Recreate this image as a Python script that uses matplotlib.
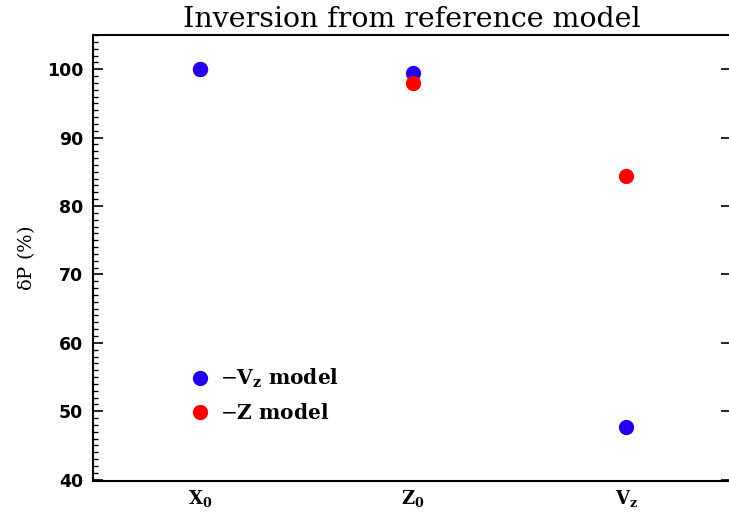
import matplotlib
matplotlib.use("Agg")
import matplotlib.pyplot as plt
from matplotlib.ticker import MultipleLocator
from matplotlib.lines import Line2D

plt.rcParams['mathtext.fontset'] = 'custom'
plt.rcParams['mathtext.rm'] = 'DejaVu Serif'
plt.rcParams['mathtext.it'] = 'DejaVu Serif'
plt.rcParams['mathtext.bf'] = 'DejaVu Serif:bold'

# parametros invertidos y porcentaje de deltaP
parametros = [r'$\mathbf{X_0}$', r'$\mathbf{Z_0}$', r'$\mathbf{V_z}$']
dp_vz = [100.0, 99.5, 47.7]     # -Vz model (azul)
dp_z = [100.0, 98.0, 84.4]      # -Z model (rojo)
# que serie queda encima en cada punto
encima = ['vz', 'z', 'z']

azul = '#2200ee'
rojo = '#ff0000'

fig = plt.figure(figsize=(7.29, 5.17), dpi=100)
ax = fig.add_axes([93 / 729, 36 / 517, 638 / 729, 446 / 517])

x = list(range(len(parametros)))
for i in x:
    z_vz, z_z = (4, 3) if encima[i] == 'vz' else (3, 4)
    ax.plot(x[i], dp_vz[i], 'o', color=azul, ms=11, mec='none', zorder=z_vz, clip_on=False)
    ax.plot(x[i], dp_z[i], 'o', color=rojo, ms=11, mec='none', zorder=z_z, clip_on=False)

ax.set_xlim(-0.5, 2.49)
ax.set_ylim(39.8, 105)

ax.set_xticks(x)
ax.set_xticklabels(parametros, fontsize=13)
ax.tick_params(axis='x', length=0, pad=5)

ax.yaxis.set_major_locator(MultipleLocator(10))
ax.yaxis.set_minor_locator(MultipleLocator(1))
ax.tick_params(axis='y', which='major', direction='in', length=7, width=1.2,
               right=True, labelsize=12.5, pad=7)
ax.tick_params(axis='y', which='minor', direction='in', length=3.5, width=1.0)
for lab in ax.get_yticklabels():
    lab.set_family('DejaVu Sans')
    lab.set_weight('bold')

for s in ax.spines.values():
    s.set_linewidth(1.5)

ax.set_ylabel(r'$\mathrm{\delta}$P (%)', family='DejaVu Serif', fontsize=14, labelpad=7)
ax.set_title('Inversion from reference model', family='DejaVu Serif',
             fontsize=20.5, pad=6)

h = [Line2D([], [], ls='none', marker='o', ms=11, color=azul, mec='none'),
     Line2D([], [], ls='none', marker='o', ms=11, color=rojo, mec='none')]
ax.legend(h, [r'$-\mathbf{V_z}$ model', r'$-$Z model'], frameon=False,
          loc='upper left', bbox_to_anchor=(0.13, 0.297),
          prop={'family': 'DejaVu Serif', 'size': 14.5, 'weight': 'bold'},
          handlelength=0.6, handletextpad=0.7, labelspacing=0.65)

fig.savefig('out.png', dpi=100)
